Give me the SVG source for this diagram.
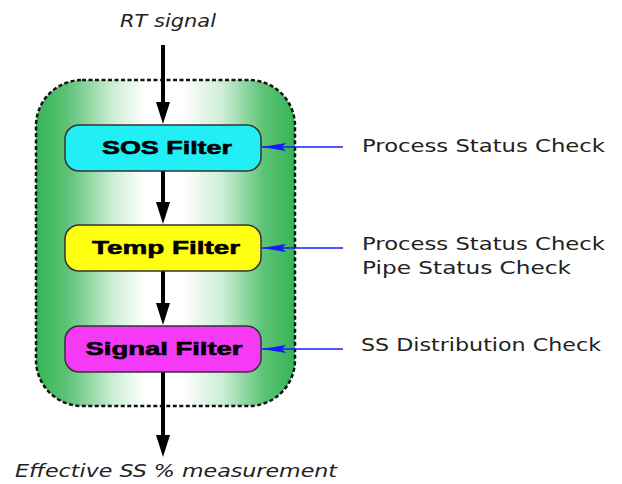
<svg xmlns="http://www.w3.org/2000/svg" width="622" height="484" viewBox="0 0 622 484">
<defs>
<linearGradient id="gGreen" x1="0" y1="0" x2="1" y2="0">
<stop offset="0" stop-color="#36b457"/>
<stop offset="0.12" stop-color="#5cc376"/>
<stop offset="0.3" stop-color="#cdeed5"/>
<stop offset="0.42" stop-color="#ffffff"/>
<stop offset="0.56" stop-color="#ffffff"/>
<stop offset="0.72" stop-color="#cdeed5"/>
<stop offset="0.88" stop-color="#5cc376"/>
<stop offset="1" stop-color="#36b457"/>
</linearGradient>
<marker id="bk" viewBox="0 0 22 14" refX="4" refY="7" markerWidth="22" markerHeight="14" markerUnits="userSpaceOnUse" orient="auto">
<path d="M0,0 L22,7 L0,14 Z" fill="#000"/>
</marker>
<marker id="bl" viewBox="0 0 24 8" refX="24" refY="4" markerWidth="24" markerHeight="8" markerUnits="userSpaceOnUse" orient="auto">
<path d="M0,0 L24,4 L0,8 L4,4 Z" fill="#1a1aff"/>
</marker>
</defs>
<style>
.flow{stroke:#000;stroke-width:4;fill:none}
.ctl{stroke:#1a1aff;stroke-width:1.3;fill:none}
.box{stroke:#333;stroke-width:1.5}
.lbl{font-family:"Liberation Sans",Arial,sans-serif;font-weight:900;font-size:19px;fill:#000;text-anchor:middle;stroke:#000;stroke-width:0.6}
.side{font-family:"DejaVu Sans","Liberation Sans",sans-serif;font-size:18px;fill:#222}
.io{font-family:"DejaVu Sans","Liberation Sans",sans-serif;font-style:italic;font-size:18px;fill:#222}
</style>
<rect width="622" height="484" fill="#fff"/>
<g id="container">
<rect x="36" y="80" width="259" height="326" rx="46" ry="46" fill="url(#gGreen)" stroke="#111" stroke-width="2.5" stroke-dasharray="4,2.5"/>
</g>
<g id="connectors">
<line class="flow" x1="163" y1="45" x2="163" y2="106" marker-end="url(#bk)"/>
<line class="flow" x1="163" y1="171" x2="163" y2="206" marker-end="url(#bk)"/>
<line class="flow" x1="163" y1="271" x2="163" y2="307" marker-end="url(#bk)"/>
<line class="flow" x1="163" y1="372" x2="163" y2="439" marker-end="url(#bk)"/>
<line class="ctl" x1="343" y1="147" x2="262" y2="147" marker-end="url(#bl)"/>
<line class="ctl" x1="343" y1="248" x2="262" y2="248" marker-end="url(#bl)"/>
<line class="ctl" x1="343" y1="349" x2="262" y2="349" marker-end="url(#bl)"/>
</g>
<g id="rt-signal"><text class="io" x="168" y="27" text-anchor="middle" textLength="96" lengthAdjust="spacingAndGlyphs">RT signal</text></g>
<g id="sos-filter">
<rect class="box" x="65" y="125" width="196" height="46" rx="14" fill="#22eef5"/>
<text class="lbl" x="167" y="154" textLength="130" lengthAdjust="spacingAndGlyphs">SOS Filter</text>
</g>
<g id="temp-filter">
<rect class="box" x="65" y="225" width="196" height="46" rx="14" fill="#ffff10"/>
<text class="lbl" x="166" y="254" textLength="148" lengthAdjust="spacingAndGlyphs">Temp Filter</text>
</g>
<g id="signal-filter">
<rect class="box" x="65" y="326" width="196" height="46" rx="14" fill="#f53af5"/>
<text class="lbl" x="164" y="355" textLength="157" lengthAdjust="spacingAndGlyphs">Signal Filter</text>
</g>
<g id="checks">
<text class="side" x="362" y="152" textLength="243" lengthAdjust="spacingAndGlyphs">Process Status Check</text>
<text class="side" x="362" y="250" textLength="243" lengthAdjust="spacingAndGlyphs">Process Status Check</text>
<text class="side" x="362" y="274" textLength="209" lengthAdjust="spacingAndGlyphs">Pipe Status Check</text>
<text class="side" x="361" y="351" textLength="240" lengthAdjust="spacingAndGlyphs">SS Distribution Check</text>
</g>
<g id="effective"><text class="io" x="15" y="477" textLength="322" lengthAdjust="spacingAndGlyphs">Effective SS % measurement</text></g>
</svg>
